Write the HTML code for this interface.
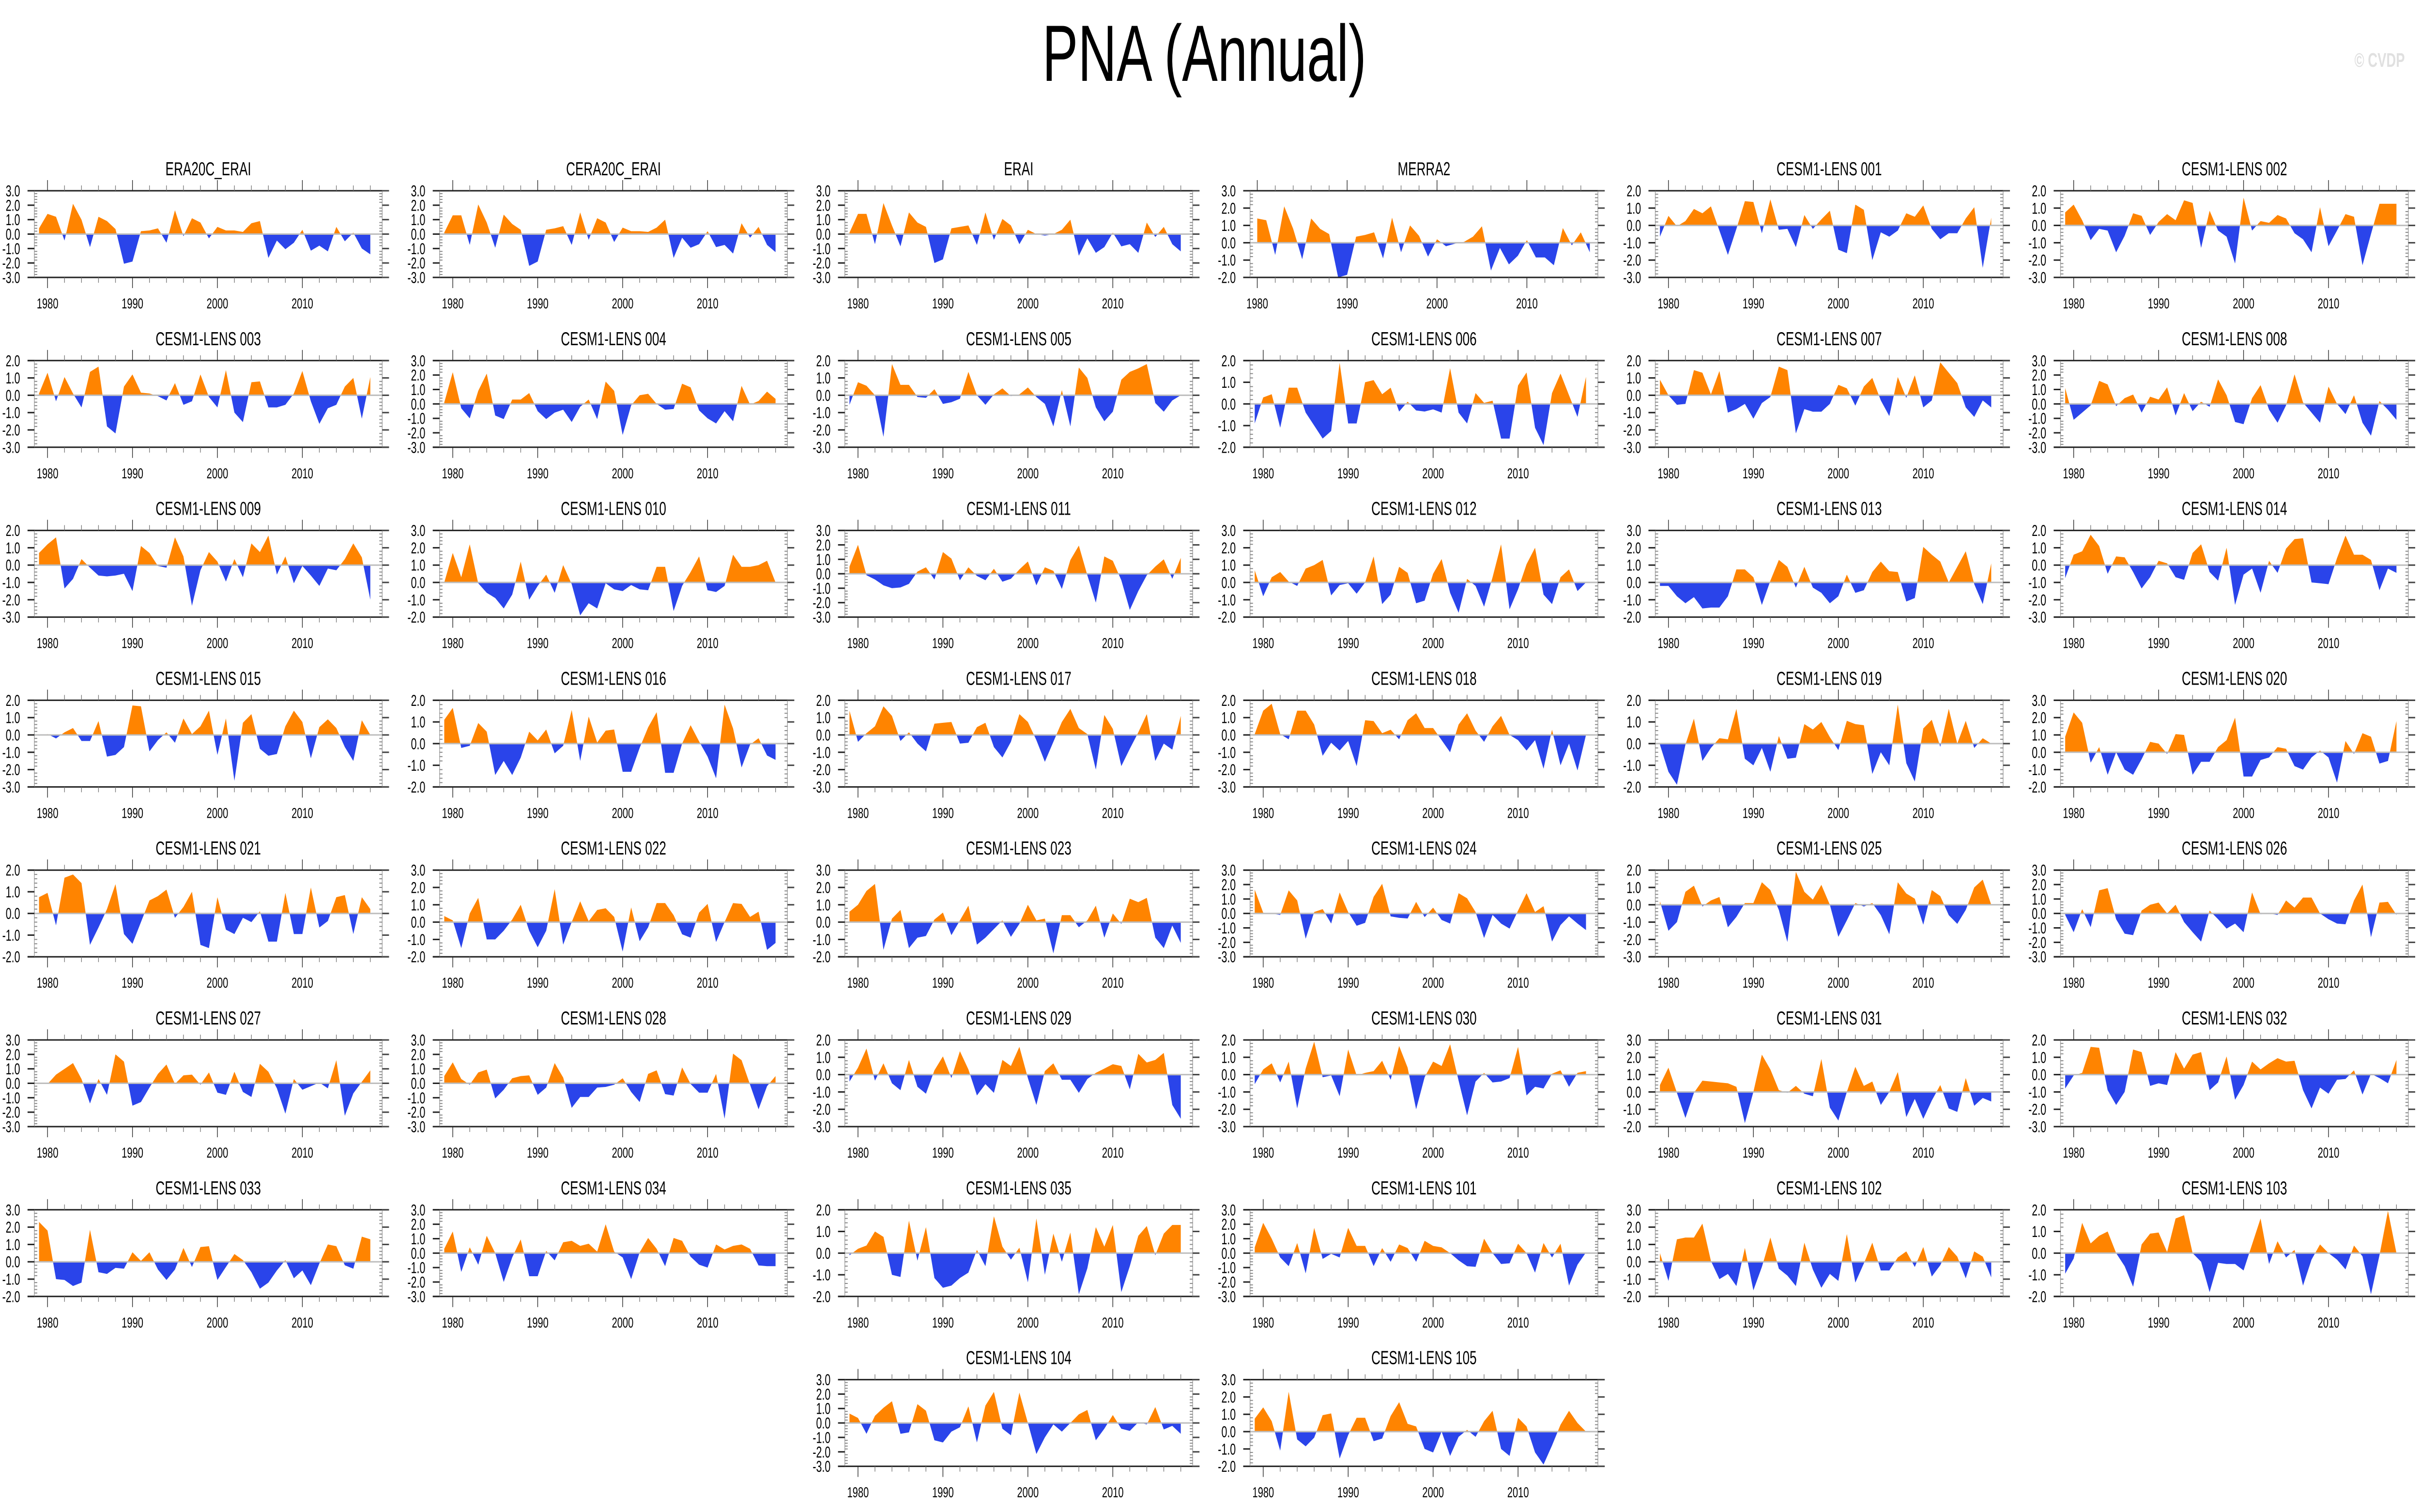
<!DOCTYPE html>
<html>
<head>
<meta charset="utf-8">
<meta name="viewport" content="width=device-width, initial-scale=1">
<style>
html,body{margin:0;padding:0;background:#fff;overflow:hidden;width:100vw;height:100vh;}
svg{display:block;width:100vw;height:100vh;}
text{font-family:"Liberation Sans",Arial,sans-serif;}
</style>
</head>
<body>
<svg id="chart" xmlns="http://www.w3.org/2000/svg" viewBox="0 0 7468 3123" preserveAspectRatio="none">
<rect x="0" y="0" width="7468" height="3123" fill="#fff"/>
<text x="3715" y="167" font-size="165" text-anchor="middle" fill="#000">PNA (Annual)</text>
<text x="7418" y="138" font-size="41" font-weight="bold" text-anchor="end" fill="#e0e0e0">© CVDP</text>
<g id="panels"></g>
</svg>
<script>
const titles = ["ERA20C_ERAI","CERA20C_ERAI","ERAI","MERRA2","CESM1-LENS 001","CESM1-LENS 002",
"CESM1-LENS 003","CESM1-LENS 004","CESM1-LENS 005","CESM1-LENS 006","CESM1-LENS 007","CESM1-LENS 008",
"CESM1-LENS 009","CESM1-LENS 010","CESM1-LENS 011","CESM1-LENS 012","CESM1-LENS 013","CESM1-LENS 014",
"CESM1-LENS 015","CESM1-LENS 016","CESM1-LENS 017","CESM1-LENS 018","CESM1-LENS 019","CESM1-LENS 020",
"CESM1-LENS 021","CESM1-LENS 022","CESM1-LENS 023","CESM1-LENS 024","CESM1-LENS 025","CESM1-LENS 026",
"CESM1-LENS 027","CESM1-LENS 028","CESM1-LENS 029","CESM1-LENS 030","CESM1-LENS 031","CESM1-LENS 032",
"CESM1-LENS 033","CESM1-LENS 034","CESM1-LENS 035","CESM1-LENS 101","CESM1-LENS 102","CESM1-LENS 103",
"CESM1-LENS 104","CESM1-LENS 105"];
const yMins = [-3,-3,-3,-2,-3,-3, -3,-3,-3,-2,-3,-3, -3,-2,-3,-2,-2,-3, -3,-2,-3,-3,-2,-2, -2,-2,-2,-3,-3,-3, -3,-3,-3,-3,-2,-3, -2,-3,-2,-3,-2,-2, -3,-2];
const yMaxs = [3,3,3,3,2,2, 2,3,2,2,2,3, 2,3,3,3,3,2, 2,2,2,2,2,3, 2,3,3,3,2,3, 3,3,2,2,3,2, 3,3,2,3,3,2, 3,3];
const startYears = [1979,1979,1979,1980,1979,1979, 1979,1979,1979,1979,1979,1979, 1979,1979,1979,1979,1979,1979, 1979,1979,1979,1979,1979,1979, 1979,1979,1979,1979,1979,1979, 1979,1979,1979,1979,1979,1979, 1979,1979,1979,1979,1979,1979, 1979,1979];
const yearTicks = [1980,1990,2000,2010];

const s_era20c = [0.4,1.4,1.2,-0.45,2.1,1.0,-0.9,1.2,0.9,0.35,-2.05,-1.9,0.2,0.25,0.4,-0.6,1.65,-0.15,1.1,0.8,-0.3,0.5,0.25,0.25,0.15,0.75,0.9,-1.65,-0.45,-1.05,-0.6,0.3,-1.15,-0.8,-1.2,0.5,-0.5,0.1,-1.0,-1.4];
const s_cera20c = [0.1,1.3,1.3,-0.75,2.05,0.8,-0.95,1.35,0.7,0.3,-2.2,-1.9,0.3,0.4,0.55,-0.75,1.5,-0.4,1.1,0.8,-0.55,0.45,0.2,0.2,0.15,0.45,1.0,-1.65,-0.25,-0.95,-0.7,0.2,-0.9,-0.75,-1.35,0.75,-0.25,0.5,-0.75,-1.25];
const s_erai = [0.1,1.4,1.4,-0.7,2.15,0.6,-0.85,1.5,0.8,0.5,-2.0,-1.75,0.4,0.5,0.6,-0.75,1.5,-0.4,1.05,0.6,-0.7,0.3,0.0,-0.1,0.0,0.3,1.0,-1.5,-0.3,-1.3,-0.9,0.1,-0.85,-0.7,-1.3,0.8,-0.2,0.5,-0.7,-1.2];
const s_merra2 = [1.4,1.3,-0.7,2.1,0.8,-0.95,1.4,0.8,0.5,-2.0,-1.85,0.35,0.45,0.6,-0.9,1.45,-0.55,1.0,0.4,-0.8,0.2,-0.2,-0.05,0.05,0.35,0.95,-1.6,-0.3,-1.25,-0.75,0.15,-0.85,-0.85,-1.3,0.85,-0.15,0.6,-0.55];
const s_001 = [-0.65,0.55,-0.05,0.25,0.95,0.7,1.1,-0.3,-1.7,-0.2,1.4,1.35,-0.45,1.5,-0.25,-0.2,-1.25,0.6,-0.2,0.35,0.85,-1.4,-1.6,1.2,0.9,-2.0,-0.4,-0.65,-0.3,0.7,0.5,1.15,-0.2,-0.8,-0.45,-0.45,0.4,1.05,-2.45,0.45];
const s_002 = [0.75,1.2,0.3,-0.85,-0.2,-0.3,-1.55,-0.6,0.7,0.55,-0.55,0.2,0.65,0.3,1.45,1.3,-1.3,0.85,-0.3,-0.65,-2.2,1.6,-0.3,0.25,0.15,0.6,0.4,-0.45,-0.8,-1.55,1.05,-1.2,-0.3,0.65,0.5,-2.3,-0.5,1.25,1.25,1.25];
const s_003 = [0.1,1.3,-0.35,1.05,0.1,-0.7,1.35,1.65,-1.8,-2.2,0.5,1.2,0.15,0.1,-0.05,-0.3,0.7,-0.55,-0.35,1.2,-0.1,-0.7,1.45,-1.0,-1.55,0.75,0.8,-0.7,-0.7,-0.55,0.1,1.4,-0.35,-1.65,-0.75,-0.55,0.5,1.0,-1.35,1.05];
const s_004 = [0.1,2.2,-0.3,-1.0,0.9,2.1,-0.8,-1.05,0.3,0.3,0.75,-0.5,-1.05,-0.6,-0.4,-1.25,-0.2,0.3,-1.05,1.55,0.9,-2.15,-0.1,0.6,0.7,0.0,-0.4,-0.35,1.4,1.15,-0.45,-1.0,-1.35,-0.5,-1.2,1.25,-0.05,0.2,0.85,0.35];
const s_005 = [-0.55,0.75,0.55,0.0,-2.4,1.8,0.6,0.6,-0.1,-0.15,0.35,-0.5,-0.4,-0.2,1.35,0.0,-0.55,0.05,0.4,-0.05,0.05,0.45,-0.1,-0.5,-1.8,0.3,-1.8,1.6,1.0,-0.7,-1.5,-0.95,0.9,1.35,1.55,1.8,-0.45,-0.95,-0.3,0.0];
const s_006 = [-0.9,0.3,0.45,-1.1,0.75,0.75,-0.4,-1.0,-1.6,-1.25,1.9,-0.9,-0.9,1.0,1.1,0.45,0.75,-0.35,0.1,-0.3,-0.35,-0.25,-0.4,1.65,-0.4,-0.9,0.5,0.05,0.15,-1.6,-1.6,0.85,1.45,-1.1,-1.9,0.5,1.4,0.4,-0.6,1.25];
const s_007 = [0.9,0.0,-0.55,-0.5,1.45,1.3,0.05,1.4,-1.0,-0.8,-0.5,-1.35,-0.45,-0.1,1.65,1.45,-2.2,-0.8,-0.95,-0.95,-0.5,0.6,0.4,-0.6,0.5,1.0,-0.3,-1.2,1.05,-0.15,1.15,-0.7,-0.3,1.9,1.3,0.7,-0.7,-1.25,-0.3,-0.7];
const s_008 = [1.1,-1.1,-0.6,-0.1,1.6,1.35,-0.15,0.4,0.65,-0.6,0.5,0.3,1.15,-0.8,0.75,-0.5,0.15,-0.2,1.7,0.6,-1.25,-1.4,0.4,1.3,-0.4,-1.3,-0.1,2.05,0.1,-0.6,-1.3,1.2,0.0,-0.7,0.6,-1.3,-2.2,0.2,-0.4,-1.1];
const s_009 = [0.7,1.2,1.6,-1.35,-0.8,0.35,-0.15,-0.6,-0.65,-0.6,-0.5,-1.5,1.1,0.7,-0.05,-0.15,1.6,0.5,-2.35,-0.3,0.75,0.2,-0.95,0.35,-0.7,1.25,0.75,1.7,-0.55,0.5,-1.05,-0.05,-0.6,-1.2,-0.2,-0.3,0.35,1.25,0.45,-2.0];
const s_010 = [0.0,1.7,0.3,2.2,-0.05,-0.6,-0.9,-1.5,-0.7,1.2,-1.0,-0.2,0.45,-0.6,1.0,-0.1,-1.9,-1.2,-1.5,-0.05,-0.4,-0.5,-0.15,-0.4,-0.45,0.9,0.9,-1.65,-0.2,0.6,1.5,-0.45,-0.55,-0.2,1.6,0.9,0.9,1.0,1.25,0.0];
const s_011 = [0.5,2.0,-0.1,-0.4,-0.8,-1.0,-0.95,-0.7,0.15,0.45,-0.4,1.5,1.05,-0.45,0.45,-0.15,-0.45,0.35,-0.55,-0.35,0.3,0.85,-0.8,0.45,0.2,-1.05,0.95,1.95,-0.1,-2.0,1.2,0.9,-0.45,-2.5,-1.2,-0.1,0.5,1.0,-0.35,1.1];
const s_012 = [0.7,-0.8,0.3,0.6,0.05,-0.2,0.8,1.0,1.3,-0.75,-0.15,-0.05,-0.65,0.0,1.5,-1.25,-0.7,0.9,0.55,-1.2,-1.05,0.5,1.35,-0.6,-1.75,0.2,-0.2,-1.4,0.3,2.2,-1.55,-0.4,1.05,2.0,-0.7,-1.25,0.3,0.75,-0.5,0.0];
const s_013 = [-0.2,-0.2,-0.8,-1.2,-0.85,-1.5,-1.45,-1.45,-0.8,0.75,0.75,0.3,-1.3,0.1,1.3,0.9,-0.3,0.9,-0.3,-0.6,-1.2,-0.8,0.45,-0.6,-0.45,0.6,1.2,0.65,0.6,-1.1,-0.9,2.05,1.6,1.2,0.0,0.9,1.8,-0.1,-1.25,1.1];
const s_014 = [-0.75,0.6,0.8,1.75,1.1,-0.5,0.5,0.45,-0.4,-1.35,-0.7,0.25,0.1,-0.7,-0.85,0.7,1.2,-0.4,-0.9,1.0,-2.3,-0.55,-0.2,-1.6,0.25,-0.45,0.95,1.5,1.55,-1.0,-1.05,-1.1,0.4,1.7,0.6,0.6,0.3,-1.45,-0.2,-0.45];
const s_015 = [-0.05,0.05,-0.2,0.15,0.4,-0.35,-0.35,0.8,-1.25,-1.15,-0.7,1.7,1.65,-0.95,-0.3,0.15,-0.45,0.95,0.05,0.5,1.4,-1.15,0.95,-2.65,0.7,1.2,-0.8,-1.2,-1.1,0.5,1.4,0.75,-1.35,0.45,0.9,0.4,-0.7,-1.5,0.85,0.0];
const s_016 = [1.1,1.65,-0.2,-0.1,0.95,0.55,-1.45,-0.8,-1.45,-0.65,0.55,0.15,0.65,-0.45,-0.1,1.55,-0.8,1.25,0.05,0.6,0.65,-1.3,-1.3,-0.2,0.75,1.45,-1.35,-1.35,0.0,0.85,0.1,-0.6,-1.6,1.8,0.7,-1.1,-0.05,0.25,-0.55,-0.75];
const s_017 = [1.4,-0.4,0.1,0.5,1.65,1.1,-0.35,0.15,-0.5,-0.95,0.65,0.7,0.75,-0.5,-0.45,0.45,0.7,-0.7,-1.3,-0.4,1.2,0.75,-0.3,-1.55,-0.4,0.75,1.5,0.4,0.05,-2.0,1.15,0.35,-1.8,-0.8,0.15,1.2,-1.5,-0.5,-0.85,1.1];
const s_018 = [0.05,1.4,1.8,0.05,-0.25,1.4,1.4,0.6,-1.2,-0.45,-0.9,-0.35,-1.8,0.85,0.8,0.1,0.3,-0.25,0.85,1.25,0.4,0.4,-0.3,-1.0,0.6,1.25,0.25,-0.4,0.5,1.1,0.0,-0.3,-0.9,-0.3,-1.95,0.3,-1.75,-0.5,-2.05,0.0];
const s_019 = [-0.05,-1.3,-1.9,-0.05,1.15,-0.8,-0.2,0.25,0.2,1.6,-0.7,-1.0,-0.2,-1.3,0.35,-0.7,-0.65,0.9,0.65,1.0,0.3,-0.3,1.05,0.9,0.85,-1.4,-0.4,-1.0,1.8,-0.9,-1.75,0.7,1.1,-0.15,1.6,0.0,1.05,-0.2,0.25,0.0];
const s_020 = [0.9,2.3,1.7,-0.6,0.3,-1.3,0.0,-1.0,-1.3,-0.4,0.6,0.5,-0.1,1.05,1.0,-1.3,-0.55,-0.55,0.3,0.7,2.0,-1.4,-1.4,-0.45,-0.3,0.3,0.2,-0.8,-1.0,-0.3,0.1,-0.3,-1.75,0.65,-0.1,1.1,0.9,-0.65,-0.5,1.8];
const s_021 = [0.75,0.95,-0.55,1.65,1.8,1.4,-1.45,-0.65,0.2,1.35,-0.95,-1.4,-0.4,0.6,0.8,1.1,-0.2,0.3,1.0,-1.45,-1.6,0.75,-0.75,-0.95,-0.2,-0.4,0.1,-1.3,-1.3,0.95,-0.95,-0.95,1.2,-0.65,-0.35,0.75,0.85,-0.95,0.75,0.2];
const s_022 = [0.35,0.1,-1.5,0.5,1.4,-1.0,-1.0,-0.5,0.15,1.0,-0.5,-1.45,-0.5,1.9,-1.3,0.0,1.2,0.05,0.7,0.8,0.3,-1.7,0.85,-1.1,-0.3,1.1,1.1,0.4,-0.7,-0.9,0.55,1.05,-1.15,0.0,1.1,1.05,0.3,0.6,-1.6,-1.2];
const s_023 = [0.6,1.0,1.8,2.2,-1.6,0.2,0.7,-1.5,-0.9,-0.8,0.15,0.55,-0.75,0.1,0.95,-1.3,-0.9,-0.4,0.1,-0.85,-0.1,1.0,0.1,0.2,-1.8,0.4,0.4,-0.3,0.1,0.95,-0.9,0.5,-0.1,1.35,1.15,1.4,-0.9,-1.5,-0.2,-1.2];
const s_024 = [1.65,0.05,0.0,-0.1,1.6,0.9,-1.75,0.1,0.3,-0.7,1.45,0.1,-0.85,-0.65,1.15,2.05,-0.2,-0.3,-0.35,0.8,-0.25,0.4,-0.45,-0.7,1.4,1.05,0.1,-1.7,-0.1,-0.7,-1.05,0.2,1.4,0.1,0.5,-1.95,-0.8,-0.2,-0.7,-1.15];
const s_025 = [0.2,-1.5,-1.0,0.75,1.1,-0.1,0.25,0.45,-1.3,-0.7,0.1,0.1,1.3,0.85,-0.3,-2.15,1.9,0.75,0.3,1.15,0.0,-1.85,-0.9,0.1,-0.1,0.1,-0.6,-1.7,1.3,0.65,0.35,-1.15,0.85,0.5,-0.6,-1.1,-0.3,1.0,1.45,0.0];
const s_026 = [-0.1,-1.3,0.3,-0.95,1.6,1.75,-0.4,-1.4,-1.5,0.2,0.6,0.75,0.0,0.6,-0.6,-1.3,-1.95,0.2,-0.4,-1.05,-0.7,-1.3,1.45,-0.05,0.0,-0.1,0.9,0.4,1.1,1.1,0.0,-0.4,-0.7,-0.75,0.9,2.0,-1.65,0.75,0.8,-0.1];
const s_027 = [0.0,-0.05,0.6,1.0,1.4,0.3,-1.4,0.3,-0.8,2.0,1.5,-1.55,-1.3,-0.3,0.65,1.3,-0.05,0.55,0.6,-0.1,0.75,-0.65,-0.8,0.8,-0.6,-0.95,1.35,0.8,-0.35,-2.1,0.3,-0.45,-0.2,0.05,-0.35,1.6,-2.25,-0.7,0.1,0.9];
const s_028 = [0.5,1.45,0.3,-0.1,0.75,0.95,-1.05,-0.45,0.35,0.5,0.55,-0.8,-0.3,1.4,0.4,-1.7,-0.95,-0.95,-0.3,-0.25,-0.1,0.35,-0.6,-1.3,0.65,0.9,-0.75,-0.85,1.1,-0.05,-0.65,-0.65,0.65,-2.45,2.05,1.6,-0.1,-1.8,-0.2,0.5];
const s_029 = [-0.4,0.4,1.5,-0.35,0.65,-0.5,-0.9,0.85,-0.7,-1.1,0.25,1.05,-0.2,1.35,0.3,-1.2,-0.55,-1.05,0.85,0.5,1.6,-0.2,-1.75,0.2,0.65,-0.3,-0.3,-1.05,-0.25,0.1,0.35,0.6,0.5,-0.85,1.2,0.7,0.85,1.25,-1.75,-2.55];
const s_030 = [-0.55,0.3,0.65,-0.45,0.75,-1.95,0.35,1.9,-0.15,-0.05,-1.25,1.45,-0.05,0.1,0.2,0.8,-0.3,1.65,0.4,-2.0,-0.15,0.75,0.5,1.75,-0.35,-2.35,-0.4,0.1,-0.45,-0.4,-0.2,1.6,-1.2,-0.7,-0.8,0.05,0.25,-0.7,0.1,0.2];
const s_031 = [0.4,1.4,-0.05,-1.5,-0.05,0.65,0.6,0.55,0.5,0.3,-1.8,0.0,2.15,1.3,0.1,-0.05,0.35,-0.1,-0.25,1.9,-0.9,-1.65,0.0,1.45,0.35,0.6,-0.75,0.0,1.15,-1.45,-0.4,-1.55,-0.5,0.4,-0.95,-1.15,0.8,-0.8,-0.35,-0.55];
const s_032 = [-0.8,-0.05,0.1,1.6,1.55,-0.9,-1.75,-1.0,1.45,1.3,-0.65,-0.5,-0.6,1.3,0.35,1.15,1.3,-0.9,-0.45,1.05,-1.45,-0.6,0.75,0.3,0.65,0.95,0.75,0.8,-0.9,-1.95,-0.75,-1.1,-0.3,-0.25,0.25,-1.15,0.05,-0.2,-0.5,0.85];
const s_033 = [2.3,1.8,-1.0,-1.05,-1.4,-1.2,1.85,-0.6,-0.7,-0.35,-0.4,0.55,0.05,0.55,-0.45,-1.05,-0.45,0.8,-0.3,0.85,0.9,-1.05,-0.3,0.45,0.1,-0.6,-1.55,-1.2,-0.5,0.1,-0.95,-0.5,-1.35,-0.1,1.0,0.9,-0.2,-0.4,1.45,1.3];
const s_034 = [0.3,1.5,-1.3,0.4,-0.8,1.2,0.0,-2.0,-0.3,0.95,-1.6,-1.6,0.15,-0.5,0.75,0.85,0.5,0.65,0.1,2.0,0.1,-0.3,-1.8,0.05,1.05,0.3,-0.9,1.05,0.85,-0.25,-0.8,-1.0,0.6,0.25,0.5,0.6,0.3,-0.85,-0.9,-0.9];
const s_035 = [-0.1,0.2,0.35,1.0,0.75,-1.0,-1.1,1.5,-0.35,1.2,-1.15,-1.6,-1.5,-1.15,-0.9,0.15,-0.6,1.7,0.3,-0.3,0.25,-1.35,1.6,-1.0,0.9,-0.4,0.95,-1.9,-0.7,1.2,0.3,1.3,-1.8,-0.6,0.8,1.25,-0.1,0.9,1.3,1.3];
const s_101 = [0.4,2.1,1.0,-0.3,-0.9,0.7,-1.4,1.75,-0.4,-0.05,-0.3,1.75,0.5,0.5,-0.9,0.35,-0.6,0.6,0.35,-0.6,0.85,0.5,0.4,0.0,-0.5,-0.9,-0.95,1.0,0.0,-0.75,-0.7,0.65,0.0,-1.35,0.7,-0.3,0.65,-2.25,-0.8,0.05];
const s_102 = [0.5,-1.1,1.3,1.4,1.4,2.2,0.05,-1.0,-0.7,-1.4,0.8,-1.65,-0.3,1.4,-0.4,-0.8,-1.4,1.1,-0.45,-1.5,-0.7,-1.1,1.6,-1.2,-0.1,1.1,-0.5,-0.5,0.25,0.6,-0.3,0.85,-0.85,-0.2,0.85,0.3,-0.95,0.6,0.3,-0.9];
const s_103 = [-0.95,-0.25,1.4,0.45,0.8,1.0,0.0,-0.6,-1.55,0.4,0.9,0.95,0.05,1.6,1.75,0.0,-0.4,-1.8,-0.45,-0.5,-0.5,-0.8,0.4,1.6,-0.5,0.55,-0.2,0.15,-1.5,-0.3,0.4,0.0,-0.3,-0.75,0.35,-0.15,-1.9,-0.1,1.95,0.0];
const s_104 = [0.65,0.35,-0.75,0.5,1.05,1.5,-0.75,-0.65,1.3,0.85,-1.2,-1.35,-0.6,-0.3,1.15,-1.35,1.2,2.15,-0.4,-0.85,2.1,0.0,-2.15,-1.0,-0.1,-0.6,0.0,0.6,0.9,-1.2,-0.4,0.55,-0.4,-0.55,0.05,-0.1,1.1,-0.45,-0.2,-0.75];
const s_105 = [0.75,1.4,0.6,-1.1,2.3,-0.45,-0.85,-0.35,0.95,1.05,-1.55,-0.2,0.8,0.8,-0.55,-0.4,0.9,1.7,0.45,0.3,-1.0,-1.2,0.0,-1.4,-0.3,0.1,-0.3,0.6,1.2,-1.0,-1.4,0.8,0.3,-1.2,-1.9,-0.8,0.4,1.2,0.5,0.0];

const seriesList = [s_era20c,s_cera20c,s_erai,s_merra2,s_001,s_002,s_003,s_004,s_005,s_006,s_007,s_008,
s_009,s_010,s_011,s_012,s_013,s_014,s_015,s_016,s_017,s_018,s_019,s_020,s_021,s_022,s_023,s_024,s_025,s_026,
s_027,s_028,s_029,s_030,s_031,s_032,s_033,s_034,s_035,s_101,s_102,s_103,s_104,s_105];

const NS = "http://www.w3.org/2000/svg";
const root = document.getElementById("panels");
function mk(tag, attrs, parent) {
  const e = document.createElementNS(NS, tag);
  for (const k in attrs) e.setAttribute(k, attrs[k]);
  parent.appendChild(e);
  return e;
}
function slug(t){ return t.toLowerCase().replace(/[^a-z0-9]+/g,'-'); }

function drawPanel(k) {
  let r, c;
  if (k < 42) { r = Math.floor(k / 6); c = k % 6; } else { r = 7; c = k - 40; }
  const ox = c * 1250, oy = 394 + r * 350.8;
  const L = ox + 106, R = ox + 1179, T = oy, B = oy + 179;
  const vals = seriesList[k];
  const y0 = startYears[k];
  const n = vals.length;
  const padL = (y0 === 1980) ? 0.8 : 0.55;
  const padR = (y0 === 1980) ? 0.9 : 1.4;
  const xMin = y0 - padL, xMax = y0 + n - 1 + padR;
  const ymin = yMins[k], ymax = yMaxs[k];
  const xs = yr => L + (yr - xMin) / (xMax - xMin) * (R - L);
  const ys = v => T + (ymax - v) / (ymax - ymin) * (B - T);

  const g = mk("g", {}, root);
  
  

  const tt = mk("text", {x: (L + R) / 2, y: oy - 32, "font-size": 39, "text-anchor": "middle", fill: "#000"}, g);
  tt.textContent = titles[k];
  
  

  const pts = [];
  for (let i = 0; i < n; i++) {
    const yr = y0 + i, v = vals[i];
    pts.push([yr, v]);
    if (i < n - 1) {
      const v2 = vals[i + 1];
      if ((v > 0 && v2 < 0) || (v < 0 && v2 > 0)) {
        pts.push([yr + v / (v - v2), 0]);
      }
    }
  }
  const z = ys(0);
  let pPos = `M${xs(pts[0][0])},${z}`;
  let pNeg = `M${xs(pts[0][0])},${z}`;
  for (const p of pts) {
    pPos += ` L${xs(p[0]).toFixed(1)},${ys(Math.max(p[1], 0)).toFixed(1)}`;
    pNeg += ` L${xs(p[0]).toFixed(1)},${ys(Math.min(p[1], 0)).toFixed(1)}`;
  }
  pPos += ` L${xs(pts[pts.length - 1][0])},${z} Z`;
  pNeg += ` L${xs(pts[pts.length - 1][0])},${z} Z`;
  const fp = mk("path", {d: pPos, fill: "#ff8400", stroke: "none"}, g);
  
  
  const fn = mk("path", {d: pNeg, fill: "#2a44ea", stroke: "none"}, g);
  
  

  const zl = mk("line", {x1: L, x2: ox + 1200, y1: z, y2: z, stroke: "#bdbdbd", "stroke-width": 3}, g);
  
  

  const ax = mk("g", {}, g);
  
  
  mk("line", {x1: ox + 85, x2: ox + 1200, y1: T, y2: T, stroke: "#222", "stroke-width": 3}, ax);
  mk("line", {x1: ox + 85, x2: ox + 1200, y1: B, y2: B, stroke: "#222", "stroke-width": 3}, ax);
  mk("line", {x1: L, x2: L, y1: T, y2: B, stroke: "#9a9a9a", "stroke-width": 2}, ax);
  mk("line", {x1: R, x2: R, y1: T, y2: B, stroke: "#9a9a9a", "stroke-width": 2}, ax);

  for (let v10 = ymin * 10; v10 <= ymax * 10; v10 += 2) {
    const v = v10 / 10, yy = ys(v);
    if (v10 % 10 === 0) {
      mk("line", {x1: ox + 85, x2: L, y1: yy, y2: yy, stroke: "#222", "stroke-width": 3}, ax);
      mk("line", {x1: R, x2: ox + 1200, y1: yy, y2: yy, stroke: "#444", "stroke-width": 3}, ax);
      const lb = mk("text", {x: ox + 62, y: yy + 11.5, "font-size": 32, "text-anchor": "end", fill: "#000"}, ax);
      lb.textContent = v.toFixed(1);
      
      
    } else {
      mk("line", {x1: L, x2: L + 9, y1: yy, y2: yy, stroke: "#888", "stroke-width": 2}, ax);
      mk("line", {x1: R - 9, x2: R, y1: yy, y2: yy, stroke: "#888", "stroke-width": 2}, ax);
    }
  }
  for (let yr = Math.ceil(xMin / 2) * 2; yr <= xMax; yr += 2) {
    const xx = xs(yr);
    const major = yr % 10 === 0;
    const len = major ? 22 : 11;
    mk("line", {x1: xx, x2: xx, y1: T - len, y2: T, stroke: major ? "#222" : "#777", "stroke-width": 2}, ax);
    mk("line", {x1: xx, x2: xx, y1: B, y2: B + len, stroke: major ? "#222" : "#777", "stroke-width": 2}, ax);
  }
  for (const yr of yearTicks) {
    const lb = mk("text", {x: xs(yr), y: B + 64, "font-size": 30, "text-anchor": "middle", fill: "#000"}, ax);
    lb.textContent = String(yr);
    
    
  }
}
for (let k = 0; k < seriesList.length; k++) drawPanel(k);
</script>
</body>
</html>
